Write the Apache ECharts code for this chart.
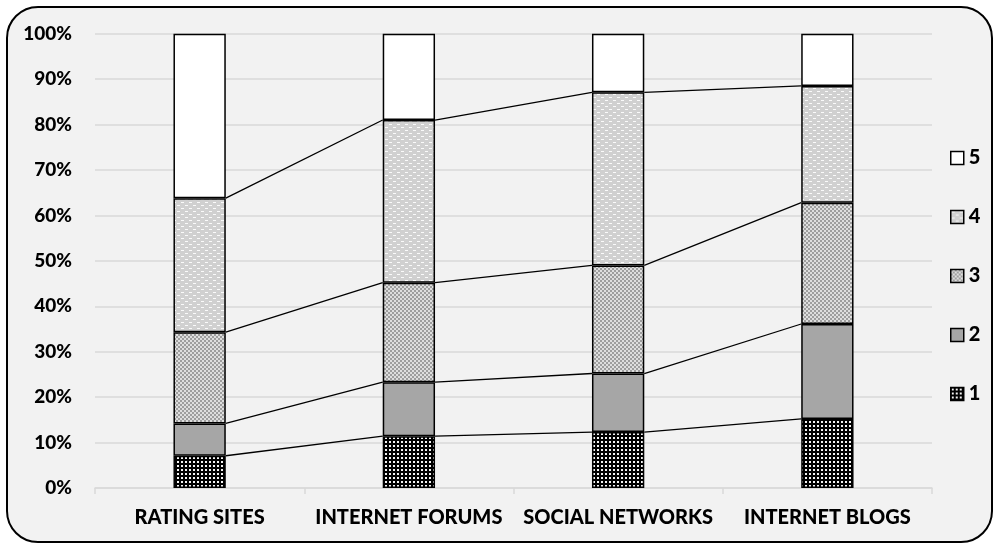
<!DOCTYPE html>
<html>
<head>
<meta charset="utf-8">
<script src="https://cdn.jsdelivr.net/npm/echarts@6/dist/echarts.min.js"></script>
<style>
html,body{margin:0;padding:0;background:#fff;}
#frame{position:absolute;left:6px;top:6px;width:987px;height:537px;box-sizing:border-box;border:2.5px solid #000;border-radius:32px;background:#f2f2f2;}
#chart{position:absolute;left:0;top:0;width:995px;height:545px;}
</style>
</head>
<body>
<div id="frame"></div>
<div id="chart"></div>
<script>
const categories = ['RATING SITES', 'INTERNET FORUMS', 'SOCIAL NETWORKS', 'INTERNET BLOGS'];
const seriesNames = ['1', '2', '3', '4', '5'];
const s1 = [7.1, 11.4, 12.3, 15.2];
const s2 = [7.1, 11.9, 12.9, 20.9];
const s3 = [20.1, 21.9, 23.8, 26.7];
const s4 = [29.5, 35.8, 38.1, 25.7];
const s5 = [36.2, 19.0, 12.9, 11.5];
const yTicks = [0, 10, 20, 30, 40, 50, 60, 70, 80, 90, 100];

function makePattern(w, h, draw) {
  const c = document.createElement('canvas');
  c.width = w; c.height = h;
  const ctx = c.getContext('2d');
  draw(ctx);
  return { image: c, repeat: 'repeat' };
}
const pat1 = makePattern(4, 4, ctx => {
  ctx.fillStyle = '#000'; ctx.fillRect(0, 0, 4, 4);
  ctx.fillStyle = '#f4f4f4'; ctx.fillRect(1, 1, 2, 2);
});
const pat3 = makePattern(4, 4, ctx => {
  ctx.fillStyle = '#9e9e9e'; ctx.fillRect(0, 0, 4, 4);
  ctx.fillStyle = '#dedede'; ctx.fillRect(2, 0, 2, 2); ctx.fillRect(0, 2, 2, 2);
});
const pat4 = makePattern(8, 6, ctx => {
  ctx.fillStyle = '#d0d0d0'; ctx.fillRect(0, 0, 8, 6);
  ctx.fillStyle = '#fafafa'; ctx.fillRect(1, 1, 3, 1); ctx.fillRect(5, 4, 3, 1);
});
const fills = [pat1, '#a6a6a6', pat3, pat4, '#ffffff'];
const values = [s1, s2, s3, s4, s5];

const barSeries = values.map((arr, k) => ({
  name: seriesNames[k],
  type: 'bar',
  stack: 'total',
  barWidth: '25%',
  data: arr,
  itemStyle: { color: fills[k], borderColor: '#000', borderWidth: 1.5 },
  emphasis: { disabled: true },
  z: 3
}));

// series lines between bars (cumulative tops of segments 1..4)
const lineData = [];
for (let k = 0; k < 4; k++) {
  for (let i = 0; i < categories.length - 1; i++) {
    let a = 0, b = 0;
    for (let j = 0; j <= k; j++) { a += values[j][i]; b += values[j][i + 1]; }
    lineData.push([i, a, b]);
  }
}
const lineSeries = {
  type: 'custom',
  name: 'lines',
  data: lineData,
  z: 4,
  silent: true,
  renderItem: function (params, api) {
    const i = api.value(0);
    const p1 = api.coord([i, api.value(1)]);
    const p2 = api.coord([i + 1, api.value(2)]);
    const bw = api.size([1, 0])[0] * 0.25;
    return {
      type: 'line',
      shape: { x1: p1[0] + bw / 2, y1: p1[1], x2: p2[0] - bw / 2, y2: p2[1] },
      style: { stroke: '#000', lineWidth: 1.3 }
    };
  }
};

const chart = echarts.init(document.getElementById('chart'), null, { renderer: 'canvas' });
const font = 'Lato, "Open Sans", sans-serif';
chart.setOption({
  animation: false,
  backgroundColor: 'transparent',
  grid: { left: 95, right: 63, top: 33.7, bottom: 57, containLabel: false },
  legend: {
    data: seriesNames.slice().reverse(),
    orient: 'vertical',
    left: 945,
    top: 143,
    itemWidth: 13,
    itemHeight: 13,
    itemGap: 39,
    icon: 'rect',
    selectedMode: false,
    itemStyle: { borderColor: '#000', borderWidth: 1.5 },
    textStyle: { fontFamily: font, fontWeight: 900, fontSize: 20, color: '#000', padding: [0, 0, 0, 0] }
  },
  xAxis: {
    type: 'category',
    data: categories,
    axisLine: { lineStyle: { color: '#d9d9d9', width: 1.5 } },
    axisTick: { show: true, length: 6, lineStyle: { color: '#d9d9d9', width: 1.5 } },
    axisLabel: { fontFamily: font, fontWeight: 900, fontSize: 20, color: '#000', margin: 20, interval: 0 }
  },
  yAxis: {
    type: 'value',
    min: yTicks[0],
    max: yTicks[yTicks.length - 1],
    interval: 10,
    axisLine: { show: false },
    axisTick: { show: false },
    splitLine: { lineStyle: { color: '#d9d9d9', width: 1.5 } },
    axisLabel: { fontFamily: font, fontWeight: 900, fontSize: 19, color: '#000', margin: 23, formatter: '{value}%' }
  },
  series: barSeries.concat([lineSeries])
});
</script>
</body>
</html>
